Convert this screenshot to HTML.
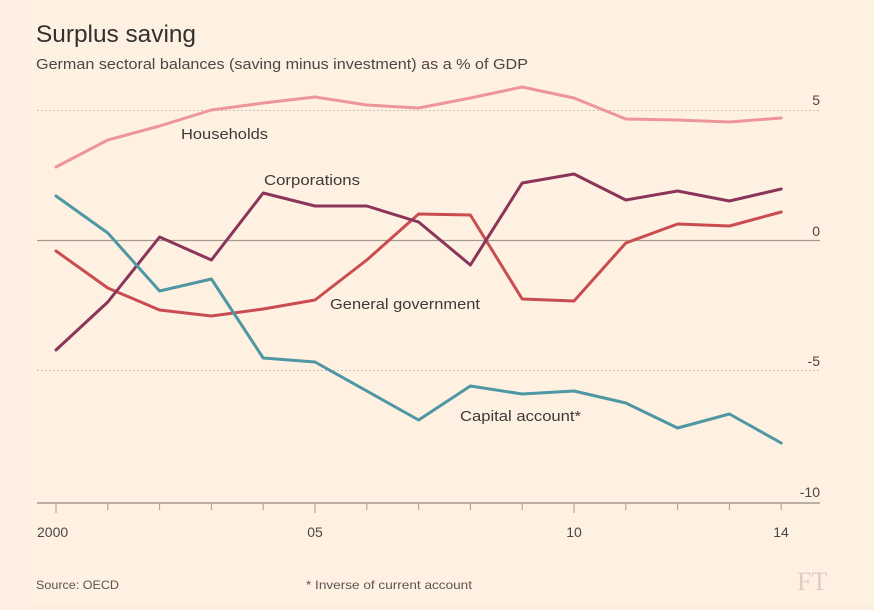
<!DOCTYPE html>
<html><head><meta charset="utf-8"><style>
html,body{margin:0;padding:0;background:#fcefe1;}
svg{display:block;font-family:"Liberation Sans",sans-serif;}
</style></head><body>
<svg width="874" height="610" viewBox="0 0 874 610">
<rect x="0" y="0" width="874" height="610" fill="#fcefe1"/>
<rect x="26" y="0" width="848" height="605" fill="#fff1e2"/>
<text x="36" y="42" font-size="24" fill="#33302e" textLength="160" lengthAdjust="spacingAndGlyphs">Surplus saving</text>
<text x="36" y="69" font-size="14.5" fill="#4a4744" textLength="492" lengthAdjust="spacingAndGlyphs">German sectoral balances (saving minus investment) as a % of GDP</text>
<g stroke="#b8aea3" stroke-width="1" stroke-dasharray="1.5,2.5">
<line x1="37" y1="110.5" x2="820" y2="110.5"/>
<line x1="37" y1="370.5" x2="820" y2="370.5"/>
</g>
<line x1="37" y1="240.5" x2="820" y2="240.5" stroke="#a39b92" stroke-width="1.3"/>
<line x1="37" y1="503" x2="820" y2="503" stroke="#a39b92" stroke-width="1.5"/>
<g stroke="#a39b92" stroke-width="1">
<line x1="56" y1="503" x2="56" y2="513"/><line x1="107.8" y1="503" x2="107.8" y2="510"/><line x1="159.6" y1="503" x2="159.6" y2="510"/><line x1="211.4" y1="503" x2="211.4" y2="510"/><line x1="263.2" y1="503" x2="263.2" y2="510"/><line x1="315" y1="503" x2="315" y2="513"/><line x1="366.8" y1="503" x2="366.8" y2="510"/><line x1="418.6" y1="503" x2="418.6" y2="510"/><line x1="470.4" y1="503" x2="470.4" y2="510"/><line x1="522.2" y1="503" x2="522.2" y2="510"/><line x1="574" y1="503" x2="574" y2="513"/><line x1="625.8" y1="503" x2="625.8" y2="510"/><line x1="677.6" y1="503" x2="677.6" y2="510"/><line x1="729.4" y1="503" x2="729.4" y2="510"/><line x1="781.2" y1="503" x2="781.2" y2="510"/>
</g>
<g font-size="14" fill="#4a4744">
<text x="37" y="537">2000</text>
<text x="315" y="537" text-anchor="middle">05</text>
<text x="574" y="537" text-anchor="middle">10</text>
<text x="781" y="537" text-anchor="middle">14</text>
<text x="820" y="105" text-anchor="end">5</text>
<text x="820" y="236" text-anchor="end">0</text>
<text x="820" y="366" text-anchor="end">-5</text>
<text x="820" y="497" text-anchor="end">-10</text>
</g>
<g fill="none" stroke-width="3" stroke-linejoin="round" stroke-linecap="round">
<polyline stroke="#ee959a" points="56,167 107.8,140 159.6,126 211.4,110 263.2,103 315,97 366.8,105 418.6,108 470.4,98 522.2,87 574,98 625.8,119 677.6,120 729.4,122 781.2,118"/>
<polyline stroke="#c94d50" points="56,251 107.8,288 159.6,310 211.4,316 263.2,309 315,300 366.8,260 418.6,214 470.4,215 522.2,299 574,301 625.8,243 677.6,224 729.4,226 781.2,212"/>
<polyline stroke="#8a3559" points="56,350 107.8,302 159.6,237 211.4,260 263.2,193 315,206 366.8,206 418.6,222 470.4,265 522.2,183 574,174 625.8,200 677.6,191 729.4,201 781.2,189"/>
<polyline stroke="#4e97a3" points="56,196 107.8,233 159.6,291 211.4,279 263.2,358 315,362 366.8,391 418.6,420 470.4,386 522.2,394 574,391 625.8,403 677.6,428 729.4,414 781.2,443"/>
</g>
<g font-size="14.5" fill="#3d3a38">
<text x="181" y="139" textLength="87" lengthAdjust="spacingAndGlyphs">Households</text>
<text x="264" y="185" textLength="96" lengthAdjust="spacingAndGlyphs">Corporations</text>
<text x="330" y="309" textLength="150" lengthAdjust="spacingAndGlyphs">General government</text>
<text x="460" y="421" textLength="121" lengthAdjust="spacingAndGlyphs">Capital account*</text>
</g>
<g font-size="12" fill="#5a5550">
<text x="36" y="589" textLength="83" lengthAdjust="spacingAndGlyphs">Source: OECD</text>
<text x="306" y="589" textLength="166" lengthAdjust="spacingAndGlyphs">* Inverse of current account</text>
</g>
<text x="797" y="590" font-family="Liberation Serif,serif" font-size="26" fill="#d9cfc4">FT</text>
</svg>
</body></html>
